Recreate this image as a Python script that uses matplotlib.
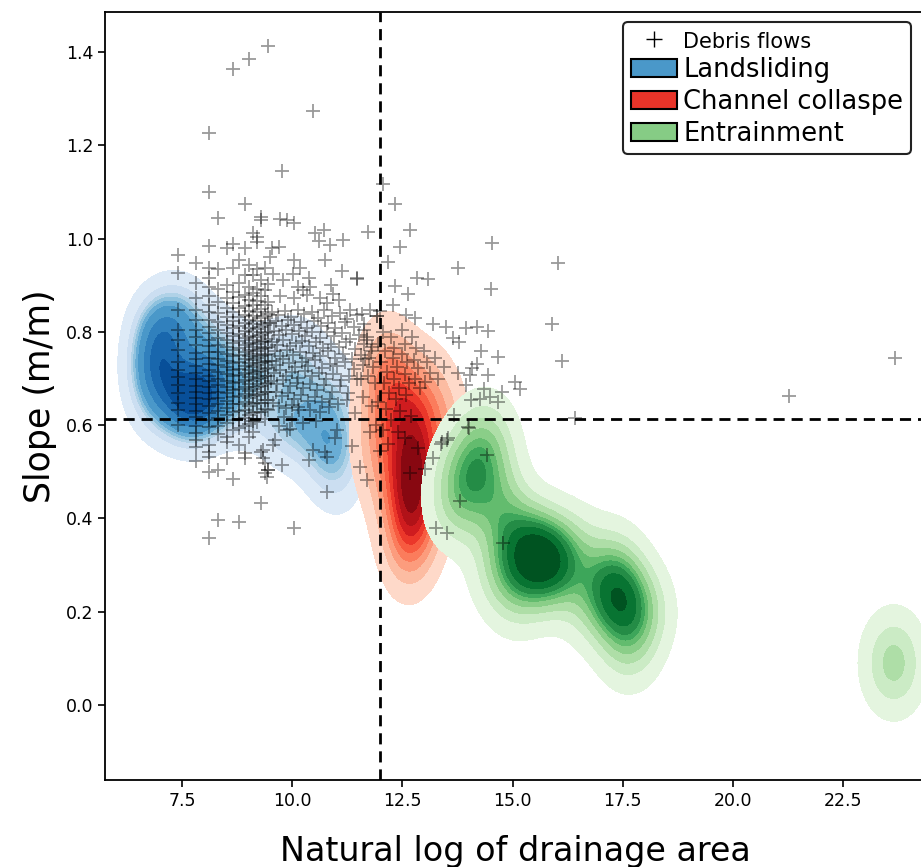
import numpy as np
import matplotlib
matplotlib.use("Agg")
import matplotlib.pyplot as plt
from matplotlib.lines import Line2D
from matplotlib.patches import Patch

# ---- Debris-flow initiation points (ln drainage area, slope) ----
# small catchments come in discrete drainage-area steps -> vertical stripes
debris_stripes = {
    7.41: [0.965, 0.926, 0.846, 0.804, 0.782, 0.761, 0.735, 0.718, 0.703, 0.686, 0.669, 0.647, 0.632, 0.600],
    7.81: [0.948, 0.904, 0.872, 0.848, 0.826, 0.805, 0.790, 0.772, 0.755, 0.741, 0.727, 0.712, 0.698, 0.684,
           0.671, 0.659, 0.646, 0.631, 0.617, 0.598, 0.583, 0.568, 0.554, 0.524],
    8.10: [1.226, 1.100, 0.984, 0.938, 0.915, 0.897, 0.878, 0.858, 0.842, 0.826, 0.811, 0.797, 0.783, 0.770,
           0.757, 0.744, 0.731, 0.718, 0.706, 0.694, 0.681, 0.668, 0.655, 0.641, 0.626, 0.612, 0.596, 0.557,
           0.543, 0.531, 0.500, 0.357],
    8.32: [1.045, 0.934, 0.892, 0.865, 0.840, 0.821, 0.803, 0.786, 0.771, 0.757, 0.742, 0.728, 0.713, 0.699,
           0.686, 0.672, 0.659, 0.645, 0.630, 0.615, 0.598, 0.580, 0.504, 0.397],
    8.51: [0.979, 0.900, 0.872, 0.851, 0.832, 0.815, 0.798, 0.783, 0.768, 0.752, 0.737, 0.724, 0.710, 0.695,
           0.681, 0.668, 0.652, 0.637, 0.621, 0.605, 0.575, 0.564, 0.529],
    8.66: [1.364, 0.988, 0.938, 0.886, 0.861, 0.842, 0.824, 0.808, 0.792, 0.777, 0.762, 0.748, 0.733, 0.719,
           0.705, 0.690, 0.676, 0.661, 0.645, 0.628, 0.612, 0.590, 0.484],
    8.80: [0.954, 0.905, 0.874, 0.851, 0.831, 0.813, 0.796, 0.780, 0.765, 0.750, 0.736, 0.721, 0.707, 0.692,
           0.677, 0.662, 0.646, 0.630, 0.613, 0.594, 0.557, 0.393],
    8.92: [1.074, 0.979, 0.922, 0.880, 0.856, 0.836, 0.818, 0.801, 0.786, 0.771, 0.756, 0.741, 0.727, 0.712,
           0.697, 0.682, 0.666, 0.650, 0.633, 0.615, 0.598, 0.540, 0.529],
    9.02: [1.385, 0.943, 0.897, 0.868, 0.845, 0.825, 0.808, 0.792, 0.777, 0.762, 0.748, 0.733, 0.719, 0.704,
           0.689, 0.674, 0.658, 0.641, 0.622, 0.603, 0.575],
    9.12: [1.012, 0.921, 0.884, 0.857, 0.835, 0.816, 0.799, 0.783, 0.768, 0.753, 0.739, 0.724, 0.709, 0.694,
           0.678, 0.662, 0.645, 0.627, 0.608, 0.586],
    9.21: [1.004, 0.993, 0.935, 0.893, 0.866, 0.843, 0.823, 0.806, 0.790, 0.774, 0.759, 0.744, 0.729, 0.714,
           0.698, 0.682, 0.665, 0.647, 0.628, 0.606],
    9.30: [1.047, 1.040, 0.912, 0.876, 0.850, 0.829, 0.811, 0.794, 0.778, 0.763, 0.748, 0.733, 0.717, 0.701,
           0.684, 0.667, 0.648, 0.628, 0.543, 0.432],
    9.38: [0.936, 0.889, 0.858, 0.834, 0.814, 0.797, 0.781, 0.766, 0.751, 0.736, 0.721, 0.705, 0.689, 0.672,
           0.654, 0.635, 0.614, 0.518, 0.497],
    9.45: [1.413, 0.903, 0.865, 0.839, 0.818, 0.800, 0.784, 0.768, 0.753, 0.738, 0.722, 0.706, 0.690, 0.672,
           0.653, 0.632, 0.504],
}

# larger catchments: individual points
debris_points = [
    (9.54, 0.979), (9.69, 0.982), (9.50, 0.961), (9.72, 1.043), (9.88, 1.040), (10.03, 1.034), (9.77, 1.145),
    (10.47, 1.273), (10.52, 1.011), (10.71, 1.018), (10.60, 0.995), (10.86, 0.986), (11.16, 0.998), (11.73, 1.015),
    (10.03, 0.954), (10.18, 0.938), (10.01, 0.925), (10.74, 0.955), (11.12, 0.931), (11.46, 0.916), (9.57, 0.925),
    (9.80, 0.911), (10.37, 0.915), (10.40, 0.897), (10.25, 0.890), (10.14, 0.897), (10.89, 0.900), (10.93, 0.882),
    (9.72, 0.876), (10.03, 0.872), (10.33, 0.879), (10.63, 0.872), (10.78, 0.861), (11.05, 0.868), (11.30, 0.847),
    (11.46, 0.836), (11.77, 0.847), (11.92, 0.833),
    (9.55, 0.842), (9.68, 0.836), (9.83, 0.845), (9.97, 0.831), (10.12, 0.848), (10.26, 0.838), (10.45, 0.843),
    (10.58, 0.829), (10.72, 0.846), (10.90, 0.834), (11.08, 0.840), (11.25, 0.828), (11.58, 0.839),
    (9.50, 0.818), (9.62, 0.823), (9.76, 0.812), (9.90, 0.826), (10.05, 0.815), (10.20, 0.821), (10.34, 0.809),
    (10.50, 0.824), (10.66, 0.813), (10.82, 0.819), (10.98, 0.808), (11.20, 0.822), (11.40, 0.811), (11.63, 0.817),
    (9.58, 0.801), (9.70, 0.793), (9.85, 0.804), (10.00, 0.796), (10.15, 0.802), (10.30, 0.791), (10.44, 0.799),
    (10.62, 0.787), (10.78, 0.800), (10.95, 0.792), (11.12, 0.797), (11.30, 0.785), (11.52, 0.794), (11.70, 0.789),
    (9.53, 0.779), (9.66, 0.772), (9.80, 0.783), (9.94, 0.769), (10.09, 0.776), (10.23, 0.781), (10.38, 0.770),
    (10.55, 0.778), (10.70, 0.766), (10.88, 0.775), (11.05, 0.768), (11.22, 0.779), (11.42, 0.764), (11.62, 0.773),
    (11.80, 0.767),
    (9.60, 0.758), (9.73, 0.749), (9.88, 0.762), (10.02, 0.751), (10.17, 0.757), (10.32, 0.745), (10.48, 0.755),
    (10.64, 0.748), (10.80, 0.760), (10.97, 0.744), (11.15, 0.752), (11.35, 0.741), (11.55, 0.750), (11.74, 0.745),
    (9.55, 0.738), (9.64, 0.729), (9.78, 0.741), (9.92, 0.733), (10.06, 0.724), (10.21, 0.736), (10.36, 0.727),
    (10.52, 0.739), (10.68, 0.722), (10.85, 0.731), (11.02, 0.726), (11.20, 0.735), (11.40, 0.721), (11.60, 0.730),
    (9.58, 0.712), (9.72, 0.718), (9.86, 0.705), (10.00, 0.714), (10.14, 0.702), (10.29, 0.716), (10.44, 0.706),
    (10.60, 0.711), (10.76, 0.700), (10.93, 0.709), (11.10, 0.697), (11.28, 0.706), (11.48, 0.698),
    (9.52, 0.694), (9.66, 0.688), (9.80, 0.697), (9.95, 0.684), (10.10, 0.691), (10.25, 0.679), (10.40, 0.689),
    (10.56, 0.676), (10.73, 0.686), (10.90, 0.672), (11.08, 0.683), (11.26, 0.669),
    (9.62, 0.671), (9.76, 0.662), (9.90, 0.668), (10.05, 0.657), (10.20, 0.664), (10.35, 0.652), (10.52, 0.661),
    (10.68, 0.649), (10.86, 0.657), (11.04, 0.645), (11.24, 0.654),
    (9.56, 0.648), (9.70, 0.641), (9.85, 0.636), (10.00, 0.644), (10.16, 0.632), (10.40, 0.632), (10.63, 0.629),
    (10.14, 0.639), (10.84, 0.638), (11.43, 0.625), (9.82, 0.617), (10.00, 0.611), (10.25, 0.604), (10.55, 0.609),
    (9.70, 0.598), (9.95, 0.592), (9.88, 0.590), (11.01, 0.590), (11.77, 0.586), (10.97, 0.572), (9.61, 0.568),
    (9.57, 0.557), (9.34, 0.546), (9.34, 0.529), (9.46, 0.504), (9.76, 0.514), (10.37, 0.525), (10.48, 0.547),
    (10.74, 0.543), (10.78, 0.532), (11.35, 0.555), (11.54, 0.511), (11.69, 0.482), (10.78, 0.457), (10.03, 0.379),
    (9.42, 0.489),
    # around and right of the ln A = 12 threshold
    (12.07, 1.118), (12.33, 1.074), (12.67, 1.019), (12.45, 0.981), (14.53, 0.990), (16.03, 0.948), (13.77, 0.938),
    (12.17, 0.950), (11.48, 0.914), (12.84, 0.916), (13.09, 0.914), (12.34, 0.898), (12.62, 0.881), (14.50, 0.891),
    (12.29, 0.857), (12.00, 0.845), (11.92, 0.834), (12.59, 0.836), (12.79, 0.830), (13.19, 0.817), (13.49, 0.810),
    (13.94, 0.808), (14.19, 0.810), (14.45, 0.802), (13.64, 0.787), (13.79, 0.779), (15.89, 0.817), (16.13, 0.737),
    (14.28, 0.758), (14.67, 0.747), (14.19, 0.732), (14.07, 0.722), (14.04, 0.707), (13.76, 0.711), (14.44, 0.707),
    (13.94, 0.686), (14.36, 0.678), (15.06, 0.692), (15.16, 0.678), (14.76, 0.671), (14.67, 0.650), (14.48, 0.660),
    (14.25, 0.657), (14.06, 0.654), (16.42, 0.615), (13.66, 0.621), (14.02, 0.594), (13.52, 0.569), (13.37, 0.560),
    (23.69, 0.745), (21.27, 0.663),
    (11.62, 0.805), (11.70, 0.782), (11.78, 0.760), (11.66, 0.742), (11.84, 0.725), (11.72, 0.705), (11.88, 0.690),
    (11.95, 0.775), (12.05, 0.800), (12.10, 0.760), (12.02, 0.735), (12.15, 0.715), (12.08, 0.690), (12.20, 0.670),
    (12.25, 0.790), (12.32, 0.765), (12.28, 0.745), (12.38, 0.725), (12.30, 0.700), (12.42, 0.680), (12.35, 0.655),
    (12.48, 0.805), (12.55, 0.775), (12.50, 0.752), (12.60, 0.735), (12.56, 0.710), (12.65, 0.690), (12.58, 0.665),
    (12.72, 0.790), (12.80, 0.765), (12.76, 0.740), (12.85, 0.722), (12.78, 0.700), (12.90, 0.680), (13.00, 0.760),
    (13.05, 0.735), (13.12, 0.712), (13.02, 0.692), (13.25, 0.745), (13.30, 0.700), (13.45, 0.725), (11.95, 0.650),
    (12.12, 0.635), (12.45, 0.630), (12.70, 0.620), (11.80, 0.640), (12.25, 0.612), (11.60, 0.660), (11.55, 0.700),
    # below the slope threshold
    (13.99, 0.597), (13.54, 0.572), (13.39, 0.564), (14.41, 0.536), (13.20, 0.529), (13.01, 0.507), (12.67, 0.497),
    (12.86, 0.550), (12.56, 0.572), (13.81, 0.437), (13.26, 0.380), (13.51, 0.369), (14.78, 0.347), (12.05, 0.590),
    (12.18, 0.560), (11.98, 0.545), (12.40, 0.585), (11.90, 0.600),
]

# ---- Kernel-density support points for each initiation process ----
landslide_x = [6.80, 6.85, 6.95, 7.00, 6.80, 6.75, 7.10, 7.00, 7.30, 7.60, 7.50, 7.70, 7.80, 7.90, 8.00, 7.60,
               8.20, 8.30, 7.30, 7.20, 8.50, 7.90, 7.50, 8.10, 8.40, 7.80, 8.80, 9.20, 9.60, 10.00, 10.40, 9.70,
               10.30, 10.60, 10.90, 11.05, 10.70, 10.90, 9.10, 6.90, 10.20, 11.20, 11.15, 9.80]
landslide_y = [0.80, 0.74, 0.77, 0.72, 0.68, 0.72, 0.80, 0.83, 0.84, 0.84, 0.66, 0.64, 0.66, 0.63, 0.66, 0.62,
               0.65, 0.68, 0.64, 0.68, 0.64, 0.70, 0.74, 0.75, 0.78, 0.80, 0.72, 0.72, 0.74, 0.76, 0.74, 0.64,
               0.66, 0.60, 0.55, 0.47, 0.52, 0.68, 0.62, 0.64, 0.58, 0.56, 0.64, 0.58]

collapse_x = [12.70, 12.65, 12.75, 12.60, 12.80, 12.55, 12.85, 12.70, 12.45, 12.30, 12.15, 12.60, 12.90, 13.25,
              12.50, 12.20, 12.00, 13.10, 12.60, 13.50, 11.90, 12.90, 13.30, 11.85]
collapse_y = [0.52, 0.48, 0.55, 0.45, 0.50, 0.58, 0.42, 0.40, 0.62, 0.70, 0.74, 0.68, 0.62, 0.55,
              0.36, 0.46, 0.60, 0.68, 0.32, 0.62, 0.70, 0.36, 0.46, 0.54]

entrain_x = [14.00, 13.85, 14.30, 14.60, 14.80, 15.05, 15.55, 15.65, 15.60, 15.35,
             15.85, 16.10, 15.10, 16.35, 17.30, 17.40, 17.50, 17.55, 17.65, 17.20, 16.80, 13.70,
             14.40, 18.00, 14.70, 23.65, 23.65]
entrain_y = [0.46, 0.51, 0.54, 0.47, 0.40, 0.36, 0.34, 0.32, 0.30, 0.31,
             0.31, 0.28, 0.24, 0.33, 0.26, 0.22, 0.18, 0.24, 0.12, 0.30, 0.22, 0.42,
             0.58, 0.20, 0.29, 0.06, 0.12]

area_threshold = 12.0
slope_threshold = 0.613

legend_labels = ["Debris flows", "Landsliding", "Channel collaspe", "Entrainment"]


def density(px, py, hx, hy, gx, gy):
    X, Y = np.meshgrid(gx, gy)
    Z = np.zeros_like(X)
    for xi, yi in zip(px, py):
        Z += np.exp(-0.5 * ((X - xi) / hx) ** 2 - 0.5 * ((Y - yi) / hy) ** 2)
    return X, Y, Z / Z.sum()


def iso_levels(Z, thresh=0.05, n=10):
    vals = np.sort(Z.ravel())[::-1]
    cum = np.cumsum(vals) / vals.sum()
    q = np.linspace(thresh, 1, n)
    idx = np.searchsorted(cum, 1 - q)
    lev = np.take(vals, idx, mode="clip")
    lev = np.unique(lev)
    lev[-1] = Z.max() * 1.0001
    return lev


fig = plt.figure(figsize=(9.21, 8.67), dpi=100)
ax = fig.add_axes([105 / 921, 87 / 867, 820 / 921, 768 / 867])

gx = np.linspace(4.5, 26.0, 500)
gy = np.linspace(-0.4, 1.7, 420)

specs = [
    (landslide_x, landslide_y, 0.40, 0.055, "Blues", (0.13, 0.88)),
    (collapse_x, collapse_y, 0.38, 0.070, "Reds", (0.15, 0.93)),
    (entrain_x, entrain_y, 0.45, 0.062, "Greens", (0.13, 0.95)),
]
for px, py, hx, hy, cmap_name, (c0, c1) in specs:
    X, Y, Z = density(px, py, hx, hy, gx, gy)
    lev = iso_levels(Z)
    cmap = plt.get_cmap(cmap_name)
    cols = [cmap(v) for v in np.linspace(c0, c1, len(lev) - 1)]
    ax.contourf(X, Y, Z, levels=lev, colors=cols, zorder=1)

# debris-flow points
sx, sy = [], []
for x, ys in debris_stripes.items():
    sx.extend([x] * len(ys))
    sy.extend(ys)
for x, y in debris_points:
    sx.append(x)
    sy.append(y)
ax.scatter(sx, sy, marker="+", s=95, c="black", alpha=0.4, linewidths=1.3, zorder=3)

ax.axvline(area_threshold, color="black", ls=(0, (4, 2.5)), lw=2.0, zorder=4)
ax.axhline(slope_threshold, color="black", ls=(0, (4, 2.5)), lw=2.0, zorder=4)

ax.set_xlim(5.75, 24.36)
ax.set_ylim(-0.161, 1.486)
ax.set_xticks([7.5, 10.0, 12.5, 15.0, 17.5, 20.0, 22.5])
ax.set_yticks([0.0, 0.2, 0.4, 0.6, 0.8, 1.0, 1.2, 1.4])
ax.tick_params(labelsize=12.5, width=1.2, length=5)
for s in ax.spines.values():
    s.set_linewidth(1.3)

ax.set_xlabel("Natural log of drainage area", fontsize=24, labelpad=18)
ax.set_ylabel("Slope (m/m)", fontsize=25, labelpad=6)

handles = [
    Line2D([], [], marker="+", ls="none", color="black", markersize=11, markeredgewidth=1.0),
    Patch(facecolor=plt.get_cmap("Blues")(0.6), edgecolor="black", lw=1.5),
    Patch(facecolor=plt.get_cmap("Reds")(0.65), edgecolor="black", lw=1.5),
    Patch(facecolor=plt.get_cmap("Greens")(0.45), edgecolor="black", lw=1.5),
]
leg = ax.legend(handles, legend_labels, loc="upper right", bbox_to_anchor=(911 / 921, 845 / 867),
                bbox_transform=fig.transFigure, borderaxespad=0, fontsize=18.5, handlelength=1.8,
                handletextpad=0.25, labelspacing=0.22, borderpad=0.3, fancybox=True, framealpha=1)
leg.get_texts()[0].set_fontsize(15)
leg.get_frame().set_edgecolor("#222222")
leg.get_frame().set_linewidth(1.5)
leg.set_zorder(6)

fig.savefig("out.png", dpi=100)
